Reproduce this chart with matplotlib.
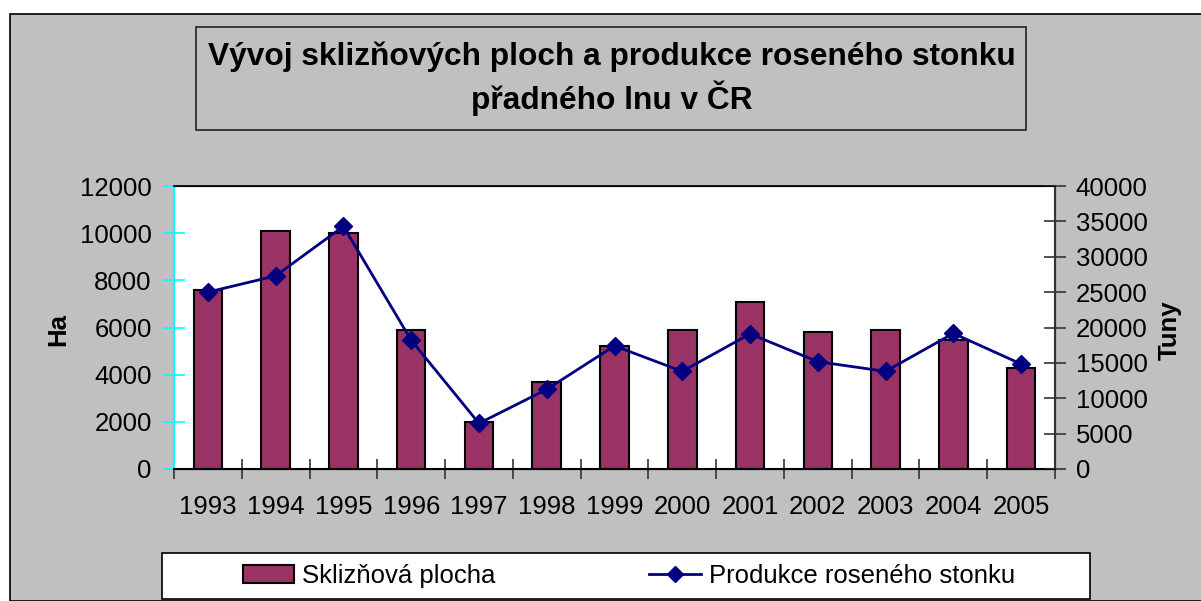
import matplotlib
matplotlib.use("Agg")
import matplotlib.pyplot as plt
import numpy as np
from matplotlib.patches import Rectangle
from matplotlib.lines import Line2D

plt.rcParams["font.family"] = ["Liberation Sans", "DejaVu Sans"]

years = ["1993", "1994", "1995", "1996", "1997", "1998", "1999",
         "2000", "2001", "2002", "2003", "2004", "2005"]
plocha_ha = [7600, 10100, 10000, 5900, 2000, 3700, 5230,
             5900, 7080, 5810, 5900, 5470, 4300]
produkce_t = [25000, 27300, 34300, 18200, 6450, 11260, 17400,
              13800, 19100, 15170, 13800, 19170, 14840]
left_ticks = [0, 2000, 4000, 6000, 8000, 10000, 12000]
right_ticks = [0, 5000, 10000, 15000, 20000, 25000, 30000, 35000, 40000]

W, H = 1201, 601
BAR = "#993366"
LINE = "#000080"
GRAY = "#c0c0c0"
FS = 18.5


def fx(px):
    return px / W


def fy(py):
    return 1 - py / H


fig = plt.figure(figsize=(W / 100, H / 100), dpi=100, facecolor="white")

# grey chart area with black top/left border
fig.add_artist(Rectangle((fx(10), 0), 1.0, fy(14), transform=fig.transFigure,
                         facecolor=GRAY, edgecolor="black", lw=1.2, zorder=0))

# title box
fig.add_artist(Rectangle((fx(196), fy(130)), fx(1026 - 196), (130 - 27) / H,
                         transform=fig.transFigure, facecolor=GRAY,
                         edgecolor="#222222", lw=1.2, zorder=1))
fig.text(fx(612), fy(79), "Vývoj sklizňových ploch a produkce roseného stonku\npřadného lnu v ČR",
         ha="center", va="center", fontsize=22.8, fontweight="bold",
         linespacing=1.3, zorder=2)

# plot area
ax = fig.add_axes([fx(174), fy(469), fx(1055 - 174), (469 - 186) / H])
ax.set_facecolor("white")
x = np.arange(len(years))
ax.bar(x, plocha_ha, width=0.42, color=BAR, edgecolor="black", linewidth=1.5, zorder=2)
ax.set_xlim(-0.5, len(years) - 0.5)
ax.set_ylim(0, 12000)
ax.set_yticks(left_ticks)
ax.set_xticks(x)
ax.set_xticklabels(years)
ax.set_xticks(np.arange(-0.5, len(years)), minor=True)
ax.tick_params(axis="x", which="major", length=0, pad=19, labelsize=FS)
ax.tick_params(axis="x", which="minor", direction="inout", length=14,
               width=1.2, color="#333333")
ax.tick_params(axis="y", direction="inout", length=16, width=1.2,
               color="#00ffff", labelsize=FS, pad=8)
ax.spines["left"].set_color("#00ffff")
ax.spines["left"].set_linewidth(1.5)
ax.spines["bottom"].set_linewidth(1.5)
ax.spines["top"].set_linewidth(1.2)

ax2 = ax.twinx()
ax2.plot(x, produkce_t, color=LINE, lw=2, marker="D", markersize=9, zorder=3)
ax2.set_ylim(0, 40000)
ax2.set_yticks(right_ticks)
ax2.tick_params(axis="y", direction="inout", length=16, width=1.2,
                color="#333333", labelsize=FS, pad=7)
ax2.spines["right"].set_linewidth(1.5)
ax2.spines["right"].set_color("#333333")
ax2.spines["left"].set_visible(False)

fig.text(fx(58), fy(330), "Ha", rotation=90, ha="center", va="center",
         fontsize=FS, fontweight="bold")
fig.text(fx(1170), fy(330), "Tuny", rotation=90, ha="center", va="center",
         fontsize=FS, fontweight="bold")

# legend box
fig.add_artist(Rectangle((fx(162), fy(599)), fx(1090 - 162), (599 - 553) / H,
                         transform=fig.transFigure, facecolor="white",
                         edgecolor="black", lw=1.2, zorder=1))
handles = [Rectangle((0, 0), 1, 1, facecolor=BAR, edgecolor="black", lw=1.5),
           Line2D([], [], color=LINE, lw=2, marker="D", markersize=8)]
labels = ["Sklizňová plocha", "Produkce roseného stonku"]
leg = fig.legend(handles, labels, loc="center left", bbox_to_anchor=(fx(230), fy(576)),
                 ncol=2, frameon=False, fontsize=FS, handlelength=2.0,
                 handletextpad=0.3, columnspacing=6.0, borderpad=0)
leg.set_zorder(3)

fig.savefig("out.png", dpi=100, facecolor="white")
